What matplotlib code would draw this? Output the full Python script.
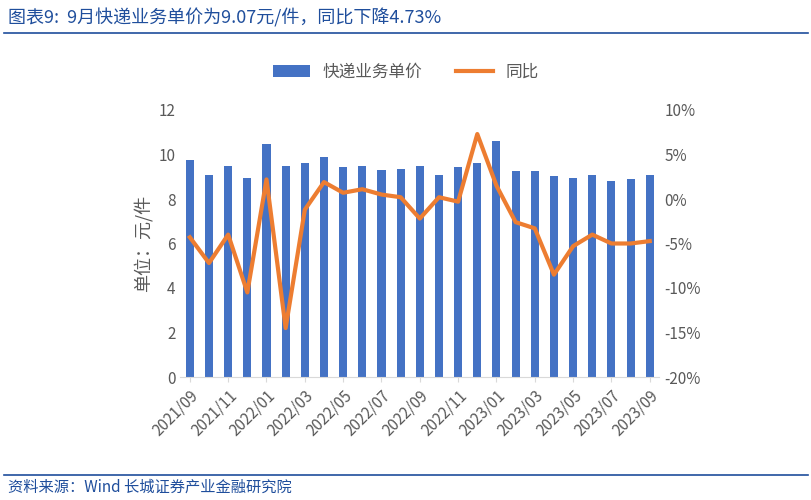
import matplotlib
matplotlib.use("Agg")
import matplotlib.pyplot as plt
from matplotlib.ticker import FuncFormatter

plt.rcParams["font.family"] = ["Noto Sans CJK SC", "DejaVu Sans"]

months = ["2021/09", "2021/10", "2021/11", "2021/12", "2022/01", "2022/02", "2022/03",
          "2022/04", "2022/05", "2022/06", "2022/07", "2022/08", "2022/09", "2022/10",
          "2022/11", "2022/12", "2023/01", "2023/02", "2023/03", "2023/04", "2023/05",
          "2023/06", "2023/07", "2023/08", "2023/09"]
price = [9.75, 9.1, 9.5, 8.95, 10.45, 9.5, 9.6, 9.9, 9.45, 9.5, 9.3, 9.35, 9.5, 9.1,
         9.45, 9.6, 10.6, 9.25, 9.25, 9.05, 8.95, 9.1, 8.8, 8.9, 9.07]
yoy = [-4.3, -7.2, -4.0, -10.5, 2.2, -14.5, -1.2, 1.9, 0.7, 1.1, 0.5, 0.2, -2.2, 0.2,
       -0.3, 7.3, 1.5, -2.6, -3.3, -8.5, -5.3, -4.0, -5.0, -5.0, -4.73]

blue = "#4472C4"
orange = "#ED7D31"
grey = "#595959"

fig = plt.figure(figsize=(8.12, 5.0), dpi=100)
ax = fig.add_axes([0.222, 0.246, 0.59, 0.534])
x = list(range(len(months)))
bars = ax.bar(x, price, width=0.42, color=blue, label="快递业务单价")
ax.set_ylim(0, 12)
ax.set_yticks(range(0, 13, 2))
ax.set_xlim(-0.5, len(months) - 0.5)
ax.set_xticks(x[::2])
ax.set_xticklabels(months[::2], rotation=45, ha="right", rotation_mode="anchor")
ax.set_ylabel("单位：元/件", color=grey, fontsize=13, labelpad=4)
for s in ["top", "right", "left"]:
    ax.spines[s].set_visible(False)
ax.spines["bottom"].set_color("#D9D9D9")
ax.tick_params(axis="y", length=0, labelsize=11, colors=grey)
ax.tick_params(axis="x", labelsize=11, colors=grey, color="#D9D9D9")

ax2 = ax.twinx()
line, = ax2.plot(x, yoy, color=orange, linewidth=3, label="同比")
ax2.set_ylim(-20, 10)
ax2.set_yticks(range(-20, 11, 5))
ax2.yaxis.set_major_formatter(FuncFormatter(lambda v, p: f"{v:.0f}%"))
for s in ["top", "right", "left", "bottom"]:
    ax2.spines[s].set_visible(False)
ax2.tick_params(axis="y", length=0, labelsize=11, colors=grey)

fig.legend([bars, line], ["快递业务单价", "同比"], loc="center", bbox_to_anchor=(0.5, 0.855),
           ncol=2, frameon=False, fontsize=12, labelcolor=grey, handlelength=2.2)

fig.text(0.01, 0.965, "图表9:  9月快递业务单价为9.07元/件，同比下降4.73%", color="#1F4E9C",
         fontsize=13, style="italic", va="center")
fig.add_artist(plt.Line2D([0.005, 0.995], [0.935, 0.935], color="#1F4E9C", linewidth=1.2))
fig.add_artist(plt.Line2D([0.005, 0.995], [0.05, 0.05], color="#1F4E9C", linewidth=1.2))
fig.text(0.01, 0.025, "资料来源：Wind 长城证券产业金融研究院", color="#1F4E9C",
         fontsize=11, style="italic", va="center")

fig.savefig("out.png", dpi=100)
